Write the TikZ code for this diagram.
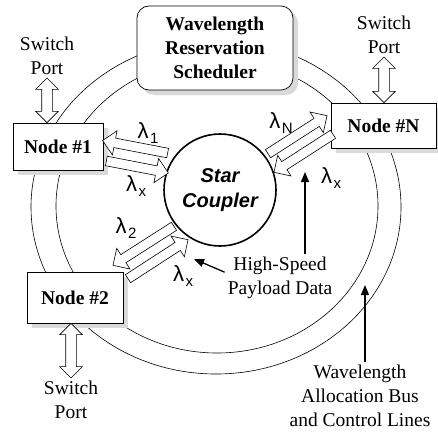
\documentclass[tikz,border=0pt]{standalone}
\usepackage{fontspec}
\setmainfont{Liberation Serif}
\setsansfont{Liberation Sans}
\usetikzlibrary{shapes.arrows,shadows,calc,arrows.meta}

% lambda label with a lowered index
\newcommand{\lam}[1]{\fontsize{22}{22}\selectfont λ\kern1.5pt\raisebox{-5pt}{\fontsize{15}{15}\selectfont #1}}
% hollow arrow of a given style laid from one point to another
\newcommand{\blockarrow}[4]{%
  \path let \p1=($(#3)-(#2)$), \n1={veclen(\x1,\y1)} in
    (#2) -- (#3) node[#1, midway, sloped, allow upside down, minimum height=\n1] (#4) {};}

\begin{document}
\begin{tikzpicture}[x=1pt,y=1pt,
        every node/.style={inner sep=0pt},
        txt/.style={font=\fontsize{19.5}{24}\selectfont, align=center, inner sep=3pt},
        station/.style={draw, fill=white, line width=0.7pt, align=center,
          font=\fontsize{19.5}{24}\selectfont\bfseries,
          general shadow={fill=black!15, draw=none, opacity=1, shadow xshift=5pt, shadow yshift=-5pt}},
        wdm/.style={single arrow, draw, fill=white, line width=0.6pt, inner sep=4.5pt,
          single arrow head extend=7.5pt, minimum width=0pt},
        port/.style={double arrow, draw, fill=white, line width=0.6pt, inner sep=5pt,
          double arrow head extend=6pt, minimum width=0pt},
        lbl/.style={font=\sffamily},
        pointer/.style={line width=1.3pt, -{Triangle[length=10pt,width=8pt]}}]
        \useasboundingbox (0,0) rectangle (438,-433);
        % bus and control lines
        \draw [black, line width=0.6pt] (216,-207) ellipse [x radius=185, y radius=167];
        \draw [black, line width=0.6pt] (217,-206) ellipse [x radius=161, y radius=147];
        % boxes
        \node [station, rounded corners=12pt, minimum width=156, minimum height=84] (sched) at (215,-48) {Wavelength\\Reservation\\Scheduler};
        \node [station, minimum width=90, minimum height=47] (n1) at (58,-146.5) {Node \#1};
        \node [station, minimum width=105, minimum height=45] (nN) at (383.5,-125.5) {Node \#N};
        \node [station, minimum width=96, minimum height=51] (n2) at (75,-297.5) {Node \#2};
        \node [circle, draw, fill=white, line width=1.6pt, minimum size=112, align=center,
          font=\fontsize{20}{25}\selectfont\sffamily\bfseries\itshape] (star) at (220,-190) {Star\\Coupler};
        % switch ports
        \node [txt] (sw1) at (47,-56) {Switch\\Port};
        \node [txt] (swN) at (384,-35) {Switch\\Port};
        \node [txt] (sw2) at (71,-400) {Switch\\Port};
        \blockarrow{port}{n1.north -| sw1}{sw1.south}{port1}
        \blockarrow{port}{nN.north -| swN}{swN.south}{portN}
        \blockarrow{port}{n2.south -| sw2}{sw2.north}{port2}
        % wavelength channels
        \coordinate (a1t) at (170,-153.5);
        \coordinate (a1h) at (105,-141);
        \coordinate (b1t) at (104,-160.5);
        \coordinate (b1h) at (166,-172.5);
        \coordinate (aNt) at (266,-155);
        \coordinate (aNh) at (325,-117);
        \coordinate (bNt) at (335,-133);
        \coordinate (bNh) at (276,-171);
        \coordinate (a2t) at (176,-225);
        \coordinate (a2h) at (115,-264);
        \coordinate (b2t) at (126,-280);
        \coordinate (b2h) at (186,-241);
        \blockarrow{wdm}{a1t}{a1h}{ch1}
        \blockarrow{wdm}{b1t}{b1h}{ch1x}
        \blockarrow{wdm}{aNt}{aNh}{chN}
        \blockarrow{wdm}{bNt}{bNh}{chNx}
        \blockarrow{wdm}{a2t}{a2h}{ch2}
        \blockarrow{wdm}{b2t}{b2h}{ch2x}
        \node [lbl] (l1) at (148,-133) {\lam{1}};
        \node [lbl] (l1x) at (136,-186) {\lam{x}};
        \node [lbl] (lN) at (281,-123) {\lam{N}};
        \node [lbl] (lNx) at (331,-178) {\lam{x}};
        \node [lbl] (l2) at (126,-228) {\lam{2}};
        \node [lbl] (l2x) at (183,-276) {\lam{x}};
        % callouts
        \node [txt] (pay) at (280,-278) {High-Speed\\Payload Data};
        \node [txt] (alloc) at (360,-396) {Wavelength\\Allocation Bus\\and Control Lines};
        \coordinate (payTip) at (305,-172);
        \coordinate (payTip2) at (194,-259);
        \coordinate (allocTip) at (365,-285);
        \draw [pointer] (pay.north -| payTip) -- (payTip);
        \draw [pointer] (pay.174) -- (payTip2);
        \draw [pointer] (alloc.north -| allocTip) -- (allocTip);
\end{tikzpicture}
\end{document}
